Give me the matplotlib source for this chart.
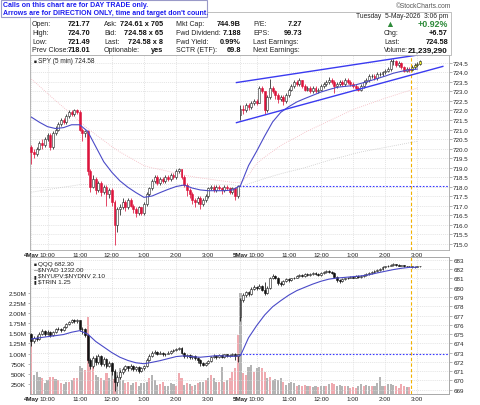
import matplotlib
matplotlib.use('Agg')
import matplotlib.pyplot as plt
import numpy as np
from matplotlib.patches import Rectangle

plt.rcParams['font.family'] = ['Liberation Sans', 'DejaVu Sans']

W, H = 480, 406

# ---- session layout (5 min bars, 9:30 - 16:00) ----
days = ['4May', '5May']
hour_labels = ['10:00', '11:00', '12:00', '1:00', '2:00', '3:00']
hour_minutes = [600, 660, 720, 780, 840, 900]
session_start = 570
bar_len = 5
bars_per_day = 78

# ---- SPY 5 min (open of a bar = previous close, except day opens) ----
spy_day_open = [720.1, 721.77]
spy_prev_close = 718.01
spy_close = [
    719.8, 719.7, 720.0, 720.3, 720.2, 720.5, 720.7, 720.1, 720.8, 721.0,
    721.3, 721.5, 721.4, 721.7, 721.9, 721.8, 722.0, 721.9, 721.0, 720.8,
    720.9, 718.8, 718.0, 718.4, 717.8, 718.2, 717.7, 718.0, 717.6, 717.8,
    717.2, 716.0, 716.8, 716.9, 717.2, 716.9, 717.3, 717.0, 716.8, 716.6,
    716.9, 716.6, 717.1, 717.6, 717.9, 718.3, 718.5, 718.2, 718.4, 718.3,
    718.5, 718.4, 718.6, 718.5, 718.8, 718.9, 718.5, 718.1, 717.8, 717.6,
    717.3, 717.2, 717.4, 717.1, 717.3, 717.5, 717.9, 718.0, 717.8, 718.0,
    717.9, 717.8, 718.0, 717.9, 717.7, 717.9, 717.5, 718.01,
    722.1, 722.0, 722.3, 722.2, 722.4, 722.5, 722.4, 723.2, 723.0, 722.0,
    722.7, 723.2, 723.0, 722.8, 722.6, 722.7, 722.5, 722.8, 723.1, 723.3,
    723.5, 723.4, 723.6, 723.3, 723.1, 723.2, 723.0, 723.2, 723.0, 723.1,
    723.3, 723.4, 723.5, 723.6, 723.5, 723.3, 723.4, 723.5, 723.4, 723.6,
    723.5, 723.4, 723.3, 723.2, 723.1, 723.3, 723.5, 723.6, 723.8, 723.8,
    723.7, 723.9, 723.9, 724.0, 724.1, 724.2, 724.6, 724.6, 724.4, 724.5,
    724.3, 724.1, 724.2, 724.15, 724.3, 724.4, 724.45, 724.58]
spy_high = [
    720.2, 720.0, 720.1, 720.4, 720.5, 720.6, 720.8, 720.8, 720.9, 721.2,
    721.4, 721.6, 721.6, 721.8, 722.0, 722.0, 722.1, 722.1, 722.0, 721.1,
    721.0, 721.0, 718.9, 718.6, 718.5, 718.3, 718.3, 718.1, 718.1, 717.9,
    717.9, 717.3, 716.9, 717.1, 717.4, 717.3, 717.4, 717.4, 717.1, 716.9,
    717.0, 716.9, 717.2, 717.7, 718.0, 718.4, 718.6, 718.6, 718.5, 718.5,
    718.6, 718.6, 718.7, 718.7, 718.9, 718.95, 718.9, 718.6, 718.2, 717.9,
    717.7, 717.4, 717.5, 717.5, 717.4, 717.6, 718.0, 718.1, 718.1, 718.1,
    718.1, 718.0, 718.1, 718.1, 718.0, 718.0, 718.0, 718.1,
    722.3, 722.3, 722.4, 722.4, 722.5, 722.6, 722.6, 723.3, 723.3, 723.0,
    722.8, 723.66, 723.3, 723.1, 722.9, 722.8, 722.8, 722.9, 723.2, 723.4,
    723.6, 723.6, 723.7, 723.6, 723.4, 723.3, 723.3, 723.3, 723.3, 723.2,
    723.4, 723.5, 723.6, 723.75, 723.7, 723.6, 723.5, 723.6, 723.6, 723.7,
    723.7, 723.6, 723.5, 723.4, 723.3, 723.4, 723.6, 723.7, 723.9, 723.9,
    723.9, 724.0, 724.0, 724.1, 724.2, 724.3, 724.7, 724.7, 724.65, 724.6,
    724.55, 724.35, 724.3, 724.3, 724.4, 724.5, 724.55, 724.65]
spy_low = [
    719.2, 719.5, 719.6, 719.9, 720.0, 720.1, 720.4, 719.9, 720.0, 720.7,
    720.9, 721.2, 721.3, 721.3, 721.6, 721.7, 721.7, 721.8, 720.9, 720.4,
    720.6, 718.6, 717.7, 717.9, 717.6, 717.7, 717.5, 717.6, 717.0, 717.4,
    717.0, 714.9, 715.6, 716.5, 716.8, 716.7, 716.8, 716.9, 716.6, 716.4,
    716.5, 716.5, 716.5, 717.0, 717.5, 717.8, 718.2, 718.1, 718.1, 718.2,
    718.2, 718.3, 718.3, 718.4, 718.4, 718.7, 718.4, 718.0, 717.5, 717.4,
    717.1, 716.9, 717.1, 716.8, 717.0, 717.2, 717.4, 717.8, 717.7, 717.7,
    717.8, 717.6, 717.7, 717.8, 717.6, 717.6, 717.3, 717.4,
    721.49, 721.8, 721.9, 722.0, 722.1, 722.3, 722.3, 722.4, 722.9, 721.8,
    721.9, 722.6, 722.9, 722.6, 722.4, 722.5, 722.3, 722.4, 722.7, 723.0,
    723.2, 723.3, 723.3, 723.2, 723.0, 723.0, 722.9, 722.9, 722.9, 722.9,
    723.0, 723.2, 723.3, 723.4, 723.4, 722.9, 723.2, 723.3, 723.3, 723.3,
    723.4, 723.3, 723.2, 723.1, 723.0, 723.0, 723.2, 723.4, 723.5, 723.7,
    723.6, 723.6, 723.8, 723.8, 723.9, 724.0, 724.1, 724.4, 724.3, 724.3,
    724.2, 724.0, 724.0, 724.05, 724.1, 724.2, 724.3, 724.4]

# moving averages, sampled every 3 bars
ma_step = 3
spy_ma_blue = [
    721.65, 721.38, 721.15, 721.05, 721.1, 721.25, 721.25, 720.9, 720.1, 719.3,
    718.75, 718.3, 717.96, 717.68, 717.43, 717.5, 717.68, 717.85, 718.0, 718.08,
    717.92, 717.82, 717.78, 717.78, 717.78, 717.82, 718.05, 719.1, 719.85, 720.65,
    721.4, 721.9, 722.2, 722.45, 722.63, 722.8, 722.97, 723.1, 723.22, 723.27,
    723.31, 723.43, 723.55, 723.68, 723.81, 723.96, 724.06, 724.14, 724.18]
spy_ma_pink = [
    723.65, 723.28, 722.9, 722.52, 722.16, 721.8, 721.42, 721.05, 720.73, 720.42,
    720.1, 719.82, 719.58, 719.34, 719.1, 718.98, 718.9, 718.8, 718.7, 718.6,
    718.52, 718.45, 718.4, 718.33, 718.28, 718.22, 718.2, 718.6, 719.2, 719.55,
    719.85, 720.15, 720.4, 720.6, 720.85, 721.05, 721.25, 721.45, 721.65, 721.85,
    722.05, 722.2, 722.35, 722.5, 722.65, 722.78, 722.92, 723.05, 723.18]
spy_ma_gray = [
    717.7, 717.77, 717.84, 717.9, 717.97, 718.03, 718.1, 718.1, 718.1, 718.1,
    718.1, 718.1, 718.1, 718.1, 718.1, 718.1, 718.1, 718.1, 718.1, 718.1,
    718.1, 718.1, 718.1, 718.1, 718.1, 718.1, 718.0, 718.14, 718.28, 718.42,
    718.55, 718.67, 718.78, 718.88, 718.99, 719.12, 719.25, 719.38, 719.5, 719.6,
    719.72, 719.82, 719.9, 719.98, 720.06, 720.14, 720.22, 720.3, 720.38]

# hand drawn channel on day 2
trend_bars = [76.5, 153.5]
trend_upper = [723.47, 725.12]
trend_lower = [721.36, 724.32]
quote_marker_bar = 141.5

# ---- QQQ 5 min ----
qqq_day_open = [675.0, 676.8]
qqq_prev_close = 672.8
qqq_close = [
    674.2, 674.6, 674.5, 675.0, 675.3, 675.0, 675.2, 674.9, 675.2, 675.5,
    675.6, 675.4, 675.8, 676.1, 676.3, 676.5, 676.4, 676.5, 675.5, 675.6,
    674.9, 672.2, 671.6, 672.4, 672.0, 672.6, 671.8, 672.3, 671.6, 671.9,
    671.0, 669.8, 670.4, 670.9, 671.2, 671.5, 671.3, 671.6, 671.2, 671.4,
    671.0, 671.3, 671.5, 672.2, 672.6, 673.0, 673.1, 672.9, 673.0, 672.8,
    672.9, 673.0, 673.2, 673.3, 673.4, 673.5, 673.0, 672.6, 672.7, 672.5,
    672.6, 672.4, 672.2, 671.9, 671.7, 671.9, 672.1, 672.5, 672.6, 672.5,
    672.7, 672.5, 672.8, 672.6, 672.7, 672.9, 672.6, 672.8,
    678.7, 679.2, 679.5, 679.3, 679.9, 680.1, 680.0, 680.2, 679.8, 679.4,
    680.0, 681.0, 681.3, 681.1, 680.5, 680.4, 680.7, 680.9, 680.8, 681.0,
    681.1, 681.3, 681.4, 681.3, 681.5, 681.4, 681.5, 681.6, 681.5, 681.4,
    681.6, 681.7, 681.8, 681.75, 681.6, 681.2, 680.8, 680.7, 680.9, 681.0,
    681.1, 681.2, 681.1, 681.3, 681.2, 681.3, 681.4, 681.5, 681.6, 681.7,
    681.8, 681.9, 682.0, 682.2, 682.3, 682.4, 682.5, 682.55, 682.5, 682.4,
    682.45, 682.35, 682.3, 682.3, 682.2, 682.25, 682.3, 682.3]
qqq_high = [
    675.1, 674.8, 674.9, 675.2, 675.5, 675.4, 675.4, 675.3, 675.3, 675.7,
    675.8, 675.7, 675.9, 676.2, 676.4, 676.6, 676.6, 676.6, 676.5, 675.8,
    675.7, 675.0, 672.4, 672.6, 672.7, 672.8, 672.7, 672.5, 672.4, 672.1,
    672.0, 671.2, 670.6, 671.1, 671.4, 671.7, 671.6, 671.8, 671.7, 671.6,
    671.5, 671.4, 671.7, 672.4, 672.8, 673.2, 673.3, 673.2, 673.2, 673.1,
    673.0, 673.2, 673.3, 673.4, 673.5, 673.65, 673.6, 673.1, 672.9, 672.8,
    672.7, 672.7, 672.5, 672.3, 672.0, 672.0, 672.2, 672.6, 672.8, 672.7,
    672.8, 672.8, 672.9, 672.9, 672.8, 673.0, 673.0, 672.9,
    678.9, 679.4, 679.7, 679.6, 680.1, 680.3, 680.2, 680.4, 680.3, 680.6,
    680.2, 681.2, 681.5, 681.4, 681.2, 680.7, 680.8, 681.0, 681.0, 681.1,
    681.2, 681.4, 681.5, 681.5, 681.6, 681.6, 681.6, 681.7, 681.7, 681.6,
    681.7, 681.8, 681.9, 681.9, 681.8, 681.7, 681.3, 680.9, 681.0, 681.1,
    681.2, 681.3, 681.3, 681.4, 681.4, 681.4, 681.5, 681.6, 681.7, 681.8,
    681.9, 682.0, 682.1, 682.3, 682.4, 682.5, 682.6, 682.65, 682.6, 682.55,
    682.5, 682.5, 682.4, 682.4, 682.35, 682.35, 682.4, 682.4]
qqq_low = [
    673.7, 674.0, 674.3, 674.4, 674.9, 674.8, 674.9, 674.7, 674.8, 675.1,
    675.4, 675.2, 675.3, 675.7, 676.0, 676.2, 676.2, 676.2, 675.3, 675.0,
    674.7, 671.9, 671.2, 671.3, 671.7, 671.8, 671.5, 671.6, 671.3, 671.4,
    670.6, 668.9, 669.4, 670.2, 670.7, 671.0, 671.0, 671.1, 671.0, 671.0,
    670.8, 670.9, 671.1, 671.4, 672.1, 672.5, 672.8, 672.7, 672.8, 672.6,
    672.6, 672.8, 672.9, 673.1, 673.2, 673.3, 672.9, 672.4, 672.4, 672.3,
    672.3, 672.2, 671.9, 671.6, 671.5, 671.6, 671.8, 672.0, 672.4, 672.3,
    672.4, 672.4, 672.4, 672.5, 672.5, 672.6, 672.2, 672.0,
    676.4, 678.5, 679.0, 679.1, 679.2, 679.8, 679.8, 679.9, 679.6, 679.2,
    679.3, 679.9, 680.9, 680.9, 680.3, 680.2, 680.3, 680.6, 680.6, 680.7,
    680.9, 681.0, 681.2, 681.2, 681.2, 681.3, 681.3, 681.4, 681.4, 681.3,
    681.3, 681.5, 681.6, 681.6, 681.5, 681.0, 680.6, 680.5, 680.6, 680.8,
    680.9, 681.0, 681.0, 681.0, 681.1, 681.1, 681.2, 681.3, 681.4, 681.5,
    681.6, 681.7, 681.8, 681.9, 682.1, 682.2, 682.3, 682.4, 682.4, 682.3,
    682.3, 682.25, 682.2, 682.2, 682.1, 682.1, 682.2, 682.2]
qqq_ma_blue = [
    674.47, 674.6, 674.72, 674.83, 674.95, 675.2, 675.37, 675.0, 674.2, 673.6,
    673.0, 672.5, 672.15, 671.9, 671.8, 671.95, 672.13, 672.35, 672.57, 672.65,
    672.55, 672.5, 672.58, 672.67, 672.63, 672.59, 672.67, 674.6, 675.9, 677.05,
    677.95, 678.6, 679.2, 679.69, 680.05, 680.4, 680.7, 680.93, 681.05, 681.12,
    681.2, 681.28, 681.4, 681.6, 681.78, 681.96, 682.1, 682.2, 682.22]

# volume in thousands, p = down bar (pink), g = up bar (gray)
volume_k = [
    1375, 473, 554, 432, 391, 268, 350, 432, 432, 374,
    350, 268, 243, 292, 309, 350, 391, 391, 702, 636,
    595, 1908, 677, 677, 473, 432, 391, 350, 513, 391,
    719, 374, 554, 636, 350, 268, 309, 227, 268, 309,
    186, 268, 268, 309, 391, 473, 350, 227, 243, 292,
    186, 186, 268, 243, 186, 513, 391, 227, 268, 243,
    186, 227, 268, 309, 292, 350, 391, 473, 391, 309,
    292, 677, 309, 350, 391, 554, 640, 1460,
    2500, 513, 473, 677, 719, 554, 636, 677, 636, 554,
    391, 432, 350, 374, 350, 408, 309, 227, 268, 292,
    268, 210, 227, 202, 227, 186, 202, 161, 186, 161,
    186, 210, 186, 243, 268, 243, 210, 227, 186, 210,
    186, 145, 161, 145, 186, 243, 210, 227, 186, 202,
    202, 268, 432, 210, 186, 243, 243, 227, 186, 145,
    243, 210, 161, 161, 0, 0, 0, 0]
volume_dir = ('pgggpggppg' 'ppggpgppgg' 'ppppggpgpg' 'gpgggppggp'
              'ggggpgggpp' 'ggggpppgpg' 'pgpggpgpgg' 'pgpgpppp'
              'gppggpggpp' 'gpggggpggg' 'gpgppgpggp' 'ggpgppgggp'
              'gpppggpggp' 'ggggpgggpp' 'ppgpgggg')

# ---- header texts ----
notice = ['Calls on this chart are for DAY TRADE only.',
          "Arrows are for DIRECTION ONLY, time and target don't count."]
quote_labels = [['Open:', 'High:', 'Low:', 'Prev Close:'],
                ['Ask:', 'Bid:', 'Last:', 'Optionable:'],
                ['Mkt Cap:', 'Fwd Dividend:', 'Fwd Yield:', 'SCTR (ETF):'],
                ['P/E:', 'EPS:', 'Last Earnings:', 'Next Earnings:']]
quote_values = [['721.77', '724.70', '721.49', '718.01'],
                ['724.61 x 705', '724.58 x 65', '724.58 x 8', 'yes'],
                ['744.9B', '7.188', '0.99%', '69.8'],
                ['7.27', '99.73', '', '']]
right_labels = ['Chg:', 'Last:', 'Volume:']
right_values = ['+6.57', '724.58', '21,239,290']
date_text = 'Tuesday  5-May-2026  3:06 pm'
pct_change = '+0.92%'
lower_legend = ['QQQ 682.30', '$NYAD 1232.00', '$NYUPV:$NYDNV 2.10', '$TRIN 1.25']

RED = '#dc143c'
MA_BLUE = '#4a4ac8'
CHAN = '#3a3af0'
GRID = '#dadada'
SPINE = '#a8a8a8'
GREEN = '#2e8b3a'

spy_close = np.array(spy_close)
qqq_close = np.array(qqq_close)
n = len(spy_close)
x = np.arange(n)


def bar_opens(close, day_open):
    o = np.r_[day_open[0], close[:-1]]
    for d, v in enumerate(day_open):
        o[d * bars_per_day] = v
    return o


spy_open = bar_opens(spy_close, spy_day_open)
qqq_open = bar_opens(qqq_close, qqq_day_open)


def draw_candles(ax, o, h, l, c, up_face, up_edge, dn_face, dn_edge, min_body):
    up = c >= o
    face = [up_face if u else dn_face for u in up]
    edge = [up_edge if u else dn_edge for u in up]
    for i in range(len(c)):
        if i > quote_marker_bar:
            face[i] = '#ffff30'
            edge[i] = '#202020'
    bot = np.minimum(o, c)
    ht = np.maximum(np.abs(c - o), min_body)
    ax.vlines(x, l, h, colors=edge, linewidth=0.55, zorder=3)
    ax.bar(x, ht, bottom=bot, width=0.72, color=face, edgecolor=edge,
           linewidth=0.4, zorder=4)


def ftext(px, py, s, **kw):
    kw.setdefault('va', 'center')
    fig.text(px / W, 1 - py / H, s, **kw)


fig = plt.figure(figsize=(W / 100, H / 100), dpi=100)
fig.patch.set_facecolor('white')

# tick positions from session times
tick_pos, tick_lab = [], []
for d, name in enumerate(days):
    tick_pos.append(d * bars_per_day)
    tick_lab.append(name)
    for lab, m in zip(hour_labels, hour_minutes):
        tick_pos.append(d * bars_per_day + (m - session_start) / bar_len)
        tick_lab.append(lab)

ax1 = fig.add_axes([30 / W, 1 - 251 / H, 419 / W, 195 / H])
ax2 = fig.add_axes([30 / W, 1 - 395 / H, 419 / W, 137 / H])
ax3 = ax2.twinx()

for ax in (ax1, ax2, ax3):
    ax.set_xlim(-0.53, 155.8)
    for s in ax.spines.values():
        s.set_color(SPINE)
        s.set_linewidth(0.6)

# ---- top panel: SPY ----
ax1.set_ylim(714.66, 724.92)
ax1.set_yticks(np.arange(715.0, 724.51, 0.5))
ax1.yaxis.tick_right()
ax1.set_yticklabels(['%.1f' % v for v in np.arange(715.0, 724.51, 0.5)])
ax1.grid(True, color=GRID, lw=0.5, ls=(0, (1.5, 1.5)))
ax1.set_axisbelow(True)

ma_x = np.arange(len(spy_ma_blue)) * ma_step
ax1.plot(ma_x, spy_ma_gray, color='#c8c8c8', lw=0.6, ls=(0, (1, 1.5)), zorder=2)
ax1.plot(ma_x, spy_ma_pink, color='#f4b6be', lw=0.6, ls=(0, (1, 1.5)), zorder=2)
ax1.hlines(spy_prev_close, bars_per_day - 0.5, 155.8, colors='#3838ff',
           linestyles=(0, (1.5, 1.5)), lw=0.8, zorder=2)
ax1.axvline(quote_marker_bar, color='#f2b200', lw=0.8, ls=(0, (3, 2)), zorder=2)
draw_candles(ax1, spy_open, np.array(spy_high), np.array(spy_low), spy_close,
             'white', '#202020', RED, RED, 0.02)
ax1.plot(ma_x, spy_ma_blue, color=MA_BLUE, lw=0.8, zorder=5)
ax1.plot(trend_bars, trend_upper, color=CHAN, lw=1.0, zorder=6)
ax1.plot(trend_bars, trend_lower, color=CHAN, lw=1.0, zorder=6)

# ---- bottom panel: volume (left) and QQQ (right) ----
ax2.set_ylim(0, 3390)
vticks = np.arange(250, 2501, 250)
ax2.set_yticks(vticks)
ax2.set_yticklabels([('%dK' % v) if v < 1000 else ('%.2fM' % (v / 1000)) for v in vticks])
ax2.bar(x, volume_k, width=0.78,
        color=['#f0aab0' if f == 'p' else '#b4b4b4' for f in volume_dir], zorder=2)

ax3.set_ylim(668.53, 683.32)
ax3.set_yticks(np.arange(669, 684))
ax3.set_yticklabels(['%d' % v for v in np.arange(669, 684)])
ax3.grid(True, axis='y', color=GRID, lw=0.5, ls=(0, (1.5, 1.5)))
ax2.grid(True, axis='x', color=GRID, lw=0.5, ls=(0, (1.5, 1.5)))
ax2.set_axisbelow(True)
ax3.hlines(qqq_prev_close, bars_per_day - 0.5, 155.8, colors='#3838ff',
           linestyles=(0, (1.5, 1.5)), lw=0.8, zorder=2)
ax3.axvline(quote_marker_bar, color='#f2b200', lw=0.8, ls=(0, (3, 2)), zorder=2)
draw_candles(ax3, qqq_open, np.array(qqq_high), np.array(qqq_low), qqq_close,
             'white', '#111111', '#111111', '#111111', 0.05)
ax3.plot(ma_x, qqq_ma_blue, color=MA_BLUE, lw=0.8, zorder=5)

for ax in (ax1, ax2):
    ax.set_xticks(tick_pos)
    ax.set_xticklabels(tick_lab)
    ax.tick_params(axis='x', length=0, pad=1.3, labelsize=4.5, colors='#222222')
    for t in ax.get_xticklabels():
        if t.get_text() in days:
            t.set_fontweight('bold')
ax3.tick_params(axis='x', length=0, labelbottom=False)
ax1.tick_params(axis='y', length=1.8, width=0.5, color='#999999', pad=1.2,
                labelsize=4.5, labelcolor='#222222')
ax2.tick_params(axis='y', length=1.8, width=0.5, color='#999999', pad=1.0,
                labelsize=4.6, labelcolor='#222222')
ax3.tick_params(axis='y', length=1.8, width=0.5, color='#999999', pad=1.2,
                labelsize=4.5, labelcolor='#222222')

# ---- legends inside panels ----
ftext(33.5, 61.7, '\u25a0', fontsize=3.5, color='#222222')
ftext(38.5, 61.7, 'SPY (5 min) 724.58', fontsize=4.7, color='#222222')
icons = ['\u25a0', '\u2014', '\u25ae', '\u25ae']
for k, (ic, s) in enumerate(zip(icons, lower_legend)):
    yy = 264.7 + k * 5.8
    ftext(33.5, yy, ic, fontsize=3.5, color='#222222')
    ftext(38.5, yy, s, fontsize=4.6, color='#222222', parse_math=False)

# ---- header ----
fig.add_artist(Rectangle((30 / W, 1 - 56 / H), 421 / W, 43.5 / H,
                         transform=fig.transFigure, fill=False,
                         edgecolor='#b4b4b4', lw=0.6))
row_y = [25, 33.7, 42.3, 51]
col_label_x = [32, 104, 176, 253]
col_value_x = [90.7, 163, 241, 302]
for c in range(4):
    for r in range(4):
        ftext(col_label_x[c], row_y[r], quote_labels[c][r], fontsize=5, color='#222222')
        if quote_values[c][r]:
            ftext(col_value_x[c], row_y[r], quote_values[c][r], fontsize=5.3,
                  fontweight='bold', ha='right', color='#111111')

ftext(448, 16, date_text, fontsize=4.8, ha='right', color='#222222')
ftext(390, 24.8, '\u25b2', fontsize=6.5, ha='center', color=GREEN)
ftext(448, 24.5, pct_change, fontsize=6.4, fontweight='bold', ha='right', color=GREEN)
for r, (lab, val) in enumerate(zip(right_labels, right_values)):
    ftext(384, row_y[r + 1], lab, fontsize=5 if r < 2 else 4.8, color='#222222')
    ftext(448, row_y[r + 1], val, fontsize=5.3 if r < 2 else 5.8,
          fontweight='bold', ha='right', color='#111111')
ftext(451, 6.5, '\u00a9StockCharts.com', fontsize=4.8, ha='right', color='#555555')

fig.add_artist(Rectangle((0.5 / W, 1 - 17.5 / H), 206.5 / W, 17 / H,
                         transform=fig.transFigure, facecolor='white',
                         edgecolor='#9a9ac8', lw=0.8, zorder=10))
ftext(3, 5.4, notice[0], fontsize=5, fontweight='bold', color='#1c1cf0', zorder=11)
ftext(3, 13.8, notice[1], fontsize=5, fontweight='bold', color='#1c1cf0', zorder=11)

fig.savefig('out.png', dpi=100)
